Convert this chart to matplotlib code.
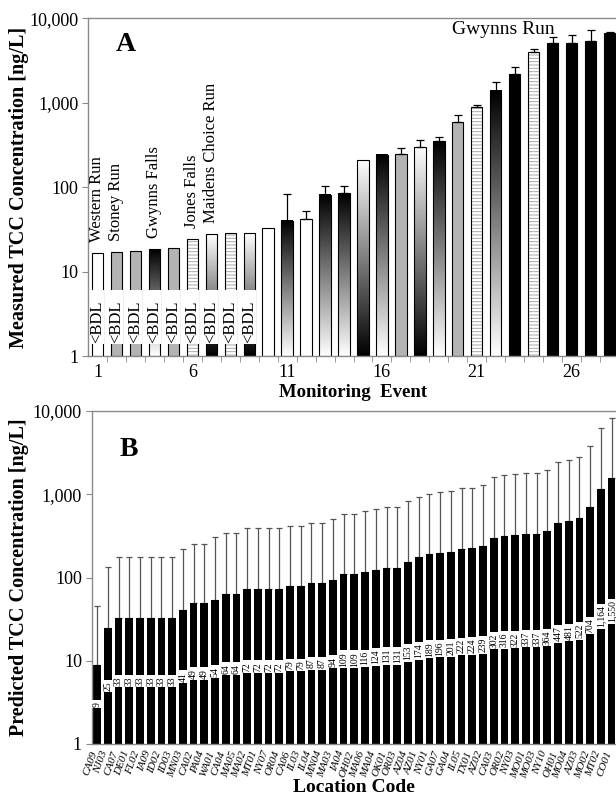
import numpy as np
import matplotlib
matplotlib.use("Agg")
import matplotlib.pyplot as plt
from matplotlib.ticker import FixedLocator, FuncFormatter, NullLocator
from matplotlib.transforms import ScaledTranslation

plt.rcParams['font.family'] = ['Liberation Serif', 'DejaVu Serif']
plt.rcParams['hatch.linewidth'] = 0.7

# ---------------- Panel A data ----------------
events = list(range(1, 29))
measured = [16.5, 17.2, 17.7, 18.4, 19.0, 24.5, 27.7, 28.4, 28.4, 32.6,
            40, 42, 81, 85, 210, 241, 247, 302, 352, 597,
            900, 1390, 2190, 3960, 5150, 5150, 5440, 6710]
measured_upper = [np.nan] * 10 + [82, 52, 104, 104, np.nan, np.nan, 289, 362, 397, 716,
                                  942, 1780, 2630, 4340, 6070, 6350, 7250, 6900]
sites = ['WR', 'SR', 'SR', 'GF', 'SR', 'JF', 'MC', 'JF', 'MC', 'WR',
         'GF', 'WR', 'GF', 'GF', 'MC', 'GF', 'SR', 'MC', 'GF', 'SR',
         'JF', 'GF', 'GR', 'JF', 'GR', 'GR', 'GR', 'GR']
below_detection = [True] * 9 + [False] * 19
site_names = {'WR': 'Western Run', 'SR': 'Stoney Run', 'GF': 'Gwynns Falls',
              'JF': 'Jones Falls', 'MC': 'Maidens Choice Run', 'GR': 'Gwynns Run'}
event_tick_labels = [1, 6, 11, 16, 21, 26]

# ---------------- Panel B data ----------------
location_codes = ['CA09', 'NJ03', 'CA07', 'DE01', 'FL02', 'IA09', 'ID02', 'ID03', 'MN03', 'CA02',
                  'PA04', 'WA01', 'CA04', 'MA05', 'MA02', 'MT01', 'NY07', 'OR04', 'CA06', 'IL03',
                  'IL04', 'MN04', 'MA03', 'IA04', 'OH02', 'MA06', 'MA04', 'OK01', 'OR03', 'AZ04',
                  'AZ01', 'NY01', 'GA07', 'GA04', 'IL05', 'TX01', 'AZ02', 'CA03', 'OR02', 'NY03',
                  'MO01', 'MO03', 'NY10', 'OH01', 'MO04', 'AZ03', 'MO02', 'MT02', 'CO01']
predicted = [9, 25, 33, 33, 33, 33, 33, 33, 41, 49,
             49, 54, 64, 64, 72, 72, 72, 72, 79, 79,
             87, 87, 94, 109, 109, 116, 124, 131, 131, 153,
             174, 189, 196, 201, 222, 224, 239, 302, 316, 322,
             337, 337, 364, 447, 481, 522, 704, 1164, 1550]
predicted_upper = [46, 134, 177, 177, 177, 177, 177, 177, 219, 256,
                   256, 305, 343, 343, 390, 390, 390, 390, 420, 420,
                   457, 457, 508, 587, 587, 630, 660, 698, 698, 824,
                   938, 1000, 1057, 1097, 1191, 1191, 1283, 1630, 1690, 1738,
                   1820, 1820, 1955, 2440, 2610, 2780, 3840, 6250, 8300]

YMIN, YMAX = 1, 10000
SPINE = '#8a8a8a'


def yfrac(v):
    return (np.log10(v) - np.log10(YMIN)) / (np.log10(YMAX) - np.log10(YMIN))


def style_log_axis(ax):
    ax.set_yscale('log')
    ax.set_ylim(YMIN, YMAX)
    ax.yaxis.set_major_locator(FixedLocator([1, 10, 100, 1000, 10000]))
    ax.yaxis.set_major_formatter(FuncFormatter(lambda v, p: f'{int(round(v)):,}'))
    ax.yaxis.set_minor_locator(NullLocator())
    for s in ['left', 'bottom', 'top']:
        ax.spines[s].set_color(SPINE)
        ax.spines[s].set_linewidth(1.0)
    ax.spines['right'].set_visible(False)
    ax.tick_params(axis='y', which='major', direction='out', length=4, color=SPINE,
                   labelsize=13, pad=3)


fig = plt.figure(figsize=(6.16, 8.0), dpi=100)

# ================= Panel A =================
axA = fig.add_axes([88 / 616, 1 - 356 / 800, 531 / 616, (356 - 18.3) / 800])
style_log_axis(axA)
xlimA = (0.5, 28.5)
axA.set_xlim(*xlimA)
axA.set_autoscale_on(False)
wA = 0.6

solid_fill = {'WR': 'white', 'SR': '#b3b3b3', 'GR': 'black'}
grad = np.linspace(0, 1, 256).reshape(-1, 1)
for x, v, s in zip(events, measured, sites):
    if s in solid_fill:
        axA.bar(x, v - 1, bottom=1, width=wA, color=solid_fill[s], edgecolor='black',
                linewidth=0.8, zorder=2)
    elif s == 'JF':
        axA.bar(x, v - 1, bottom=1, width=wA, facecolor='white', edgecolor='#a8a8a8',
                hatch='-----', linewidth=0, zorder=2)
        axA.bar(x, v - 1, bottom=1, width=wA, facecolor='none', edgecolor='black',
                linewidth=0.8, zorder=2.5)
    else:
        arr = (1 - grad) if s == 'GF' else grad
        x0 = (x - wA / 2 - xlimA[0]) / (xlimA[1] - xlimA[0])
        x1 = (x + wA / 2 - xlimA[0]) / (xlimA[1] - xlimA[0])
        axA.imshow(arr, cmap='gray', vmin=0, vmax=1, origin='lower', aspect='auto',
                   extent=(x0, x1, yfrac(1), yfrac(v)), transform=axA.transAxes,
                   interpolation='bilinear', zorder=2)
        axA.bar(x, v - 1, bottom=1, width=wA, facecolor='none', edgecolor='black',
                linewidth=0.8, zorder=2.5)

# below-detection-limit break
for x, bdl in zip(events, below_detection):
    if bdl:
        axA.bar(x, 6.0 - 1.37, bottom=1.37, width=wA + 0.12, color='white',
                linewidth=0, zorder=3)
        axA.text(x, 1.42, '<BDL', rotation=90, ha='center', va='bottom',
                 fontsize=12, zorder=4)

# error bars (upper only)
ex = [x for x, u in zip(events, measured_upper) if not np.isnan(u)]
ev = [v for v, u in zip(measured, measured_upper) if not np.isnan(u)]
eu = [u - v for v, u in zip(measured, measured_upper) if not np.isnan(u)]
axA.errorbar(ex, ev, yerr=[np.zeros(len(eu)), eu], fmt='none', ecolor='black',
             elinewidth=0.9, capsize=3, capthick=0.9, zorder=2.2)

# site labels
seen = set()
for x, v, s in zip(events, measured, sites):
    if s not in seen and s != 'GR':
        seen.add(s)
        axA.text(x, v * 1.35, site_names[s], rotation=90, ha='center', va='bottom',
                 fontsize=12, zorder=4)
axA.text(22.4, 7400, site_names['GR'], ha='center', va='center', fontsize=14, zorder=4)

axA.text(0.072, 0.921, 'A', transform=axA.transAxes, ha='center', va='center',
         fontsize=20, fontweight='bold')

axA.xaxis.set_major_locator(FixedLocator(event_tick_labels))
axA.xaxis.set_major_formatter(FuncFormatter(lambda v, p: f'{int(v)}'))
axA.xaxis.set_minor_locator(FixedLocator(np.arange(1.5, 28.5, 1.0)))
axA.tick_params(axis='x', which='major', length=0, labelsize=13, pad=6)
axA.tick_params(axis='x', which='minor', length=4, color=SPINE, direction='out')
axA.set_xlabel('Monitoring  Event', fontsize=13.5, fontweight='bold', labelpad=2)
axA.set_ylabel('Measured TCC Concentration [ng/L]', fontsize=14.5, fontweight='bold')
axA.yaxis.set_label_coords((29 - 88) / 531, 0.5)
axA.set_xlim(*xlimA)
axA.set_ylim(YMIN, YMAX)

# ================= Panel B =================
axB = fig.add_axes([91.7 / 616, 1 - 744 / 800, 525.3 / 616, 333 / 800])
style_log_axis(axB)
xB = np.arange(len(location_codes))
axB.set_xlim(-0.5, len(location_codes) - 0.5)
axB.set_autoscale_on(False)
wB = 0.72
axB.bar(xB, np.array(predicted) - 1, bottom=1, width=wB, color='black', zorder=2)
errB = np.array(predicted_upper) - np.array(predicted)
axB.errorbar(xB, predicted, yerr=[np.zeros(len(errB)), errB], fmt='none',
             ecolor='#555555', elinewidth=0.9, capsize=2.5, capthick=0.9, zorder=1.8)
for x, v in zip(xB, predicted):
    axB.text(x, np.sqrt(v), f'{v:,}', rotation=90, ha='center', va='center',
             fontsize=7, zorder=5,
             bbox=dict(boxstyle='square,pad=0.15', facecolor='white', edgecolor='none'))

axB.text(0.071, 0.883, 'B', transform=axB.transAxes, ha='center', va='center',
         fontsize=20, fontweight='bold')
axB.set_xlabel('Location Code', fontsize=14, fontweight='bold', labelpad=0)
axB.set_ylabel('Predicted TCC Concentration [ng/L]', fontsize=14.5, fontweight='bold')
axB.yaxis.set_label_coords((29 - 91.7) / 525.3, 0.5)
axB.set_xlim(-0.5, len(location_codes) - 0.5)
axB.set_ylim(YMIN, YMAX)
axB.set_xticks(xB)
axB.tick_params(axis='x', which='major', length=0, pad=4)
axB.set_xticklabels(location_codes, rotation=70, ha='right', rotation_mode='anchor',
                    fontsize=8, fontstyle='italic')
shift = ScaledTranslation(-7 / 100, 0, fig.dpi_scale_trans)
for lab in axB.get_xticklabels():
    lab.set_transform(lab.get_transform() + shift)

fig.savefig('out.png', dpi=100)
